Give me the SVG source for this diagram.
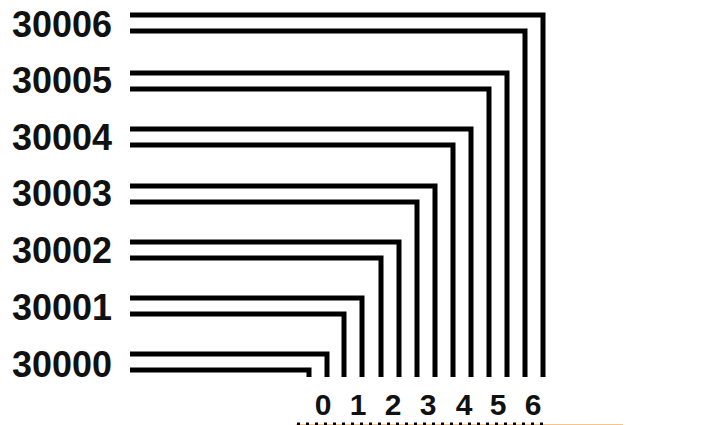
<svg xmlns="http://www.w3.org/2000/svg" width="701" height="425" viewBox="0 0 701 425">
<style>
.lbl{font-family:"Liberation Sans",Arial,sans-serif;font-weight:bold;font-size:36px;fill:#111}
.idx{font-family:"Liberation Sans",Arial,sans-serif;font-weight:bold;font-size:30px;fill:#111;text-anchor:middle}
.w{fill:none;stroke:#000;stroke-width:5;stroke-linejoin:miter;stroke-linecap:butt}
</style>
<rect width="701" height="425" fill="#fff"/>
<g id="labels">
<g id="n30006"><text class="lbl" x="12" y="37" textLength="100" lengthAdjust="spacingAndGlyphs">30006</text></g>
<g id="n30005"><text class="lbl" x="12" y="93" textLength="100" lengthAdjust="spacingAndGlyphs">30005</text></g>
<g id="n30004"><text class="lbl" x="12" y="150" textLength="100" lengthAdjust="spacingAndGlyphs">30004</text></g>
<g id="n30003"><text class="lbl" x="12" y="206" textLength="100" lengthAdjust="spacingAndGlyphs">30003</text></g>
<g id="n30002"><text class="lbl" x="12" y="263" textLength="100" lengthAdjust="spacingAndGlyphs">30002</text></g>
<g id="n30001"><text class="lbl" x="12" y="320" textLength="100" lengthAdjust="spacingAndGlyphs">30001</text></g>
<g id="n30000"><text class="lbl" x="12" y="377" textLength="100" lengthAdjust="spacingAndGlyphs">30000</text></g>
</g>
<g id="connectors">
<polyline class="w" points="130,15 543,15 543,377"/>
<polyline class="w" points="130,31 525,31 525,377"/>
<polyline class="w" points="130,73 507,73 507,377"/>
<polyline class="w" points="130,89 489,89 489,377"/>
<polyline class="w" points="130,129 471,129 471,377"/>
<polyline class="w" points="130,145 453,145 453,377"/>
<polyline class="w" points="130,186 435,186 435,377"/>
<polyline class="w" points="130,202 417,202 417,377"/>
<polyline class="w" points="130,242 399,242 399,377"/>
<polyline class="w" points="130,258 381,258 381,377"/>
<polyline class="w" points="130,298 362,298 362,377"/>
<polyline class="w" points="130,314 344,314 344,377"/>
<polyline class="w" points="130,354 327,354 327,377"/>
<polyline class="w" points="130,370 309,370 309,377"/>
</g>
<g id="indices">
<text class="idx" x="323" y="415">0</text>
<text class="idx" x="358" y="415">1</text>
<text class="idx" x="393" y="415">2</text>
<text class="idx" x="428" y="415">3</text>
<text class="idx" x="464" y="415">4</text>
<text class="idx" x="498" y="415">5</text>
<text class="idx" x="533" y="415">6</text>
</g>
<g id="bottom">
<line x1="296" y1="424.5" x2="623" y2="424.5" stroke="#f5c48a" stroke-width="1"/>
<line x1="297" y1="424" x2="545" y2="424" stroke="#000" stroke-width="3" stroke-dasharray="3 6"/>
</g>
</svg>
